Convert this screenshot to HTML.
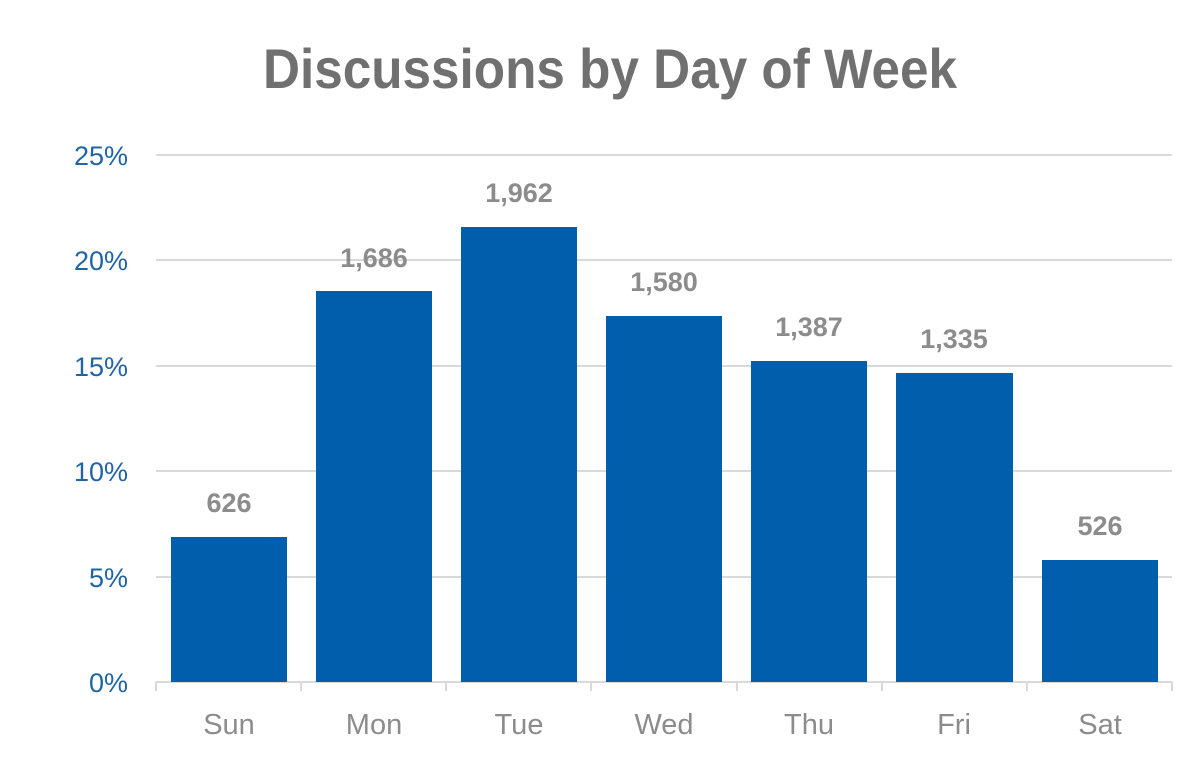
<!DOCTYPE html>
<html><head><style>body{margin:0;background:#fff}svg{display:block}</style></head><body>
<svg width="1195" height="763" viewBox="0 0 1195 763" xmlns="http://www.w3.org/2000/svg" font-family="'Liberation Sans', Arial, sans-serif">
<text x="610" y="88" text-anchor="middle" font-size="56" font-weight="bold" fill="#707070" textLength="694" lengthAdjust="spacingAndGlyphs">Discussions by Day of Week</text>
<g stroke="#d9d9d9" stroke-width="2">
<line x1="156" x2="1172" y1="155" y2="155"/><line x1="156" x2="1172" y1="260" y2="260"/><line x1="156" x2="1172" y1="366" y2="366"/><line x1="156" x2="1172" y1="471" y2="471"/><line x1="156" x2="1172" y1="577" y2="577"/><line x1="156" x2="1172" y1="682" y2="682"/>
<line x1="156" x2="156" y1="682" y2="691"/><line x1="301" x2="301" y1="682" y2="691"/><line x1="446" x2="446" y1="682" y2="691"/><line x1="591" x2="591" y1="682" y2="691"/><line x1="737" x2="737" y1="682" y2="691"/><line x1="882" x2="882" y1="682" y2="691"/><line x1="1027" x2="1027" y1="682" y2="691"/><line x1="1172" x2="1172" y1="682" y2="691"/>
</g>
<g font-size="27" fill="#1f64a6" text-anchor="end">
<text x="128" y="165">25%</text><text x="128" y="270">20%</text><text x="128" y="376">15%</text><text x="128" y="481">10%</text><text x="128" y="587">5%</text><text x="128" y="692">0%</text>
</g>
<g fill="#005eac">
<rect x="171" y="537" width="116" height="145"/><rect x="316" y="291" width="116" height="391"/><rect x="461" y="227" width="116" height="455"/><rect x="606" y="316" width="116" height="366"/><rect x="751" y="361" width="116" height="321"/><rect x="896" y="373" width="117" height="309"/><rect x="1042" y="560" width="116" height="122"/>
</g>
<g font-size="27" font-weight="bold" fill="#8c8c8c" text-anchor="middle">
<text x="229" y="512">626</text><text x="374" y="267">1,686</text><text x="519" y="202">1,962</text><text x="664" y="291">1,580</text><text x="809" y="336">1,387</text><text x="954" y="348">1,335</text><text x="1100" y="535">526</text>
</g>
<g font-size="29" fill="#8c8c8c" text-anchor="middle">
<text x="229" y="734">Sun</text><text x="374" y="734">Mon</text><text x="519" y="734">Tue</text><text x="664" y="734">Wed</text><text x="809" y="734">Thu</text><text x="954" y="734">Fri</text><text x="1100" y="734">Sat</text>
</g>
</svg>
</body></html>
